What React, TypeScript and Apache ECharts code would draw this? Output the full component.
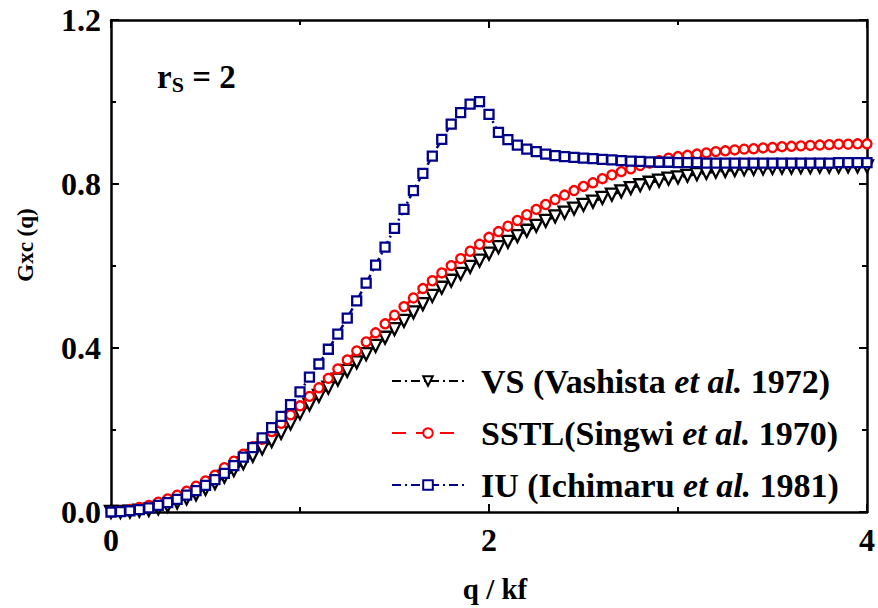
import React, { useEffect, useRef } from "react";
import * as echarts from "echarts";

const Q = [
  0.0, 0.05, 0.1, 0.15, 0.2, 0.25, 0.3, 0.35, 0.4, 0.45,
  0.5, 0.55, 0.6, 0.65, 0.7, 0.75, 0.8, 0.85, 0.9, 0.95,
  1.0, 1.05, 1.1, 1.15, 1.2, 1.25, 1.3, 1.35, 1.4, 1.45,
  1.5, 1.55, 1.6, 1.65, 1.7, 1.75, 1.8, 1.85, 1.9, 1.95,
  2.0, 2.05, 2.1, 2.15, 2.2, 2.25, 2.3, 2.35, 2.4, 2.45,
  2.5, 2.55, 2.6, 2.65, 2.7, 2.75, 2.8, 2.85, 2.9, 2.95,
  3.0, 3.05, 3.1, 3.15, 3.2, 3.25, 3.3, 3.35, 3.4, 3.45,
  3.5, 3.55, 3.6, 3.65, 3.7, 3.75, 3.8, 3.85, 3.9, 3.95,
  4.0,
];

const VS = [
  0.000, 0.000, 0.001, 0.003, 0.005, 0.009, 0.015, 0.023, 0.033, 0.043,
  0.056, 0.070, 0.086, 0.102, 0.119, 0.137, 0.155, 0.173, 0.193, 0.216,
  0.241, 0.262, 0.283, 0.303, 0.323, 0.344, 0.365, 0.385, 0.405, 0.425,
  0.446, 0.466, 0.487, 0.507, 0.527, 0.547, 0.564, 0.581, 0.598, 0.613,
  0.630, 0.646, 0.659, 0.673, 0.686, 0.698, 0.710, 0.721, 0.730, 0.740,
  0.749, 0.757, 0.766, 0.774, 0.782, 0.790, 0.797, 0.803, 0.808, 0.813,
  0.816, 0.820, 0.824, 0.827, 0.830, 0.832, 0.834, 0.836, 0.837, 0.838,
  0.839, 0.840, 0.840, 0.841, 0.841, 0.842, 0.842, 0.842, 0.843, 0.843,
  0.843,
];

const SSTL = [
  0.000, 0.002, 0.006, 0.011, 0.016, 0.024, 0.032, 0.041, 0.051, 0.063,
  0.076, 0.090, 0.108, 0.124, 0.141, 0.159, 0.177, 0.196, 0.216, 0.237,
  0.259, 0.282, 0.303, 0.326, 0.349, 0.371, 0.393, 0.415, 0.437, 0.459,
  0.480, 0.501, 0.522, 0.545, 0.564, 0.583, 0.601, 0.618, 0.636, 0.653,
  0.670, 0.684, 0.697, 0.711, 0.725, 0.738, 0.750, 0.762, 0.773, 0.784,
  0.794, 0.803, 0.813, 0.822, 0.830, 0.837, 0.845, 0.851, 0.857, 0.863,
  0.867, 0.870, 0.873, 0.876, 0.879, 0.881, 0.883, 0.885, 0.886, 0.888,
  0.889, 0.891, 0.892, 0.893, 0.894, 0.895, 0.896, 0.897, 0.897, 0.898,
  0.898,
];

const IU = [
  0.000, 0.001, 0.003, 0.006, 0.010, 0.016, 0.023, 0.031, 0.041, 0.052,
  0.065, 0.079, 0.094, 0.113, 0.134, 0.157, 0.181, 0.206, 0.233, 0.262,
  0.293, 0.329, 0.361, 0.397, 0.434, 0.473, 0.515, 0.558, 0.602, 0.646,
  0.692, 0.738, 0.784, 0.826, 0.868, 0.909, 0.946, 0.974, 0.995, 1.001,
  0.970, 0.926, 0.908, 0.895, 0.885, 0.879, 0.873, 0.869, 0.867, 0.865,
  0.863, 0.862, 0.860, 0.859, 0.857, 0.856, 0.855, 0.854, 0.853, 0.853,
  0.852, 0.852, 0.852, 0.851, 0.851, 0.851, 0.851, 0.851, 0.851, 0.851,
  0.851, 0.851, 0.851, 0.851, 0.851, 0.851, 0.851, 0.852, 0.852, 0.852,
  0.852,
];

const X_TICKS = [0, 2, 4];
const Y_TICKS = [0.0, 0.4, 0.8, 1.2];

const LEGEND_NAMES = ["VS", "SSTL", "IU"];
const LEGEND_LABELS: Record<string, string[]> = {
  VS: ["VS (Vashista ", "et al.", " 1972)"],
  SSTL: ["SSTL(Singwi ", "et al.", " 1970)"],
  IU: ["IU (Ichimaru ", "et al.", " 1981)"],
};

const FONT = '"Liberation Serif", "Times New Roman", serif';
const BLUE = "#00008b";
const RED = "#ff0000";
const BLACK = "#000000";

export default function App() {
  const ref = useRef<HTMLDivElement>(null);

  useEffect(() => {
    if (!ref.current) return;
    const chart = echarts.init(ref.current, null, { renderer: "svg" });

    const pairs = (arr: number[]) => Q.map((q, i) => [q, arr[i]]);

    const axisCommon = {
      axisLine: { show: true, onZero: false, lineStyle: { color: "#000", width: 2.5 } },
      splitLine: { show: false },
      axisTick: { show: true, inside: true, length: 8, lineStyle: { color: "#000", width: 2 } },
      minorTick: { show: true, splitNumber: 2, length: 5, lineStyle: { color: "#000", width: 2 } },
    };

    const option: any = {
      animation: false,
      backgroundColor: "#fff",
      grid: { left: 111, right: 10, top: 20, bottom: 96, containLabel: false },
      xAxis: [
        {
          type: "value",
          min: 0,
          max: 4,
          interval: 2,
          position: "bottom",
          ...axisCommon,
          axisLabel: {
            show: true,
            margin: 12,
            color: "#000",
            fontFamily: FONT,
            fontWeight: "bold",
            fontSize: 32,
            formatter: (v: number) => (X_TICKS.includes(v) ? String(v) : ""),
          },
        },
        {
          type: "value",
          min: 0,
          max: 4,
          interval: 2,
          position: "top",
          ...axisCommon,
          axisLabel: { show: false },
        },
      ],
      yAxis: [
        {
          type: "value",
          min: 0,
          max: 1.2,
          interval: 0.4,
          position: "left",
          ...axisCommon,
          axisLabel: {
            show: true,
            margin: 10,
            color: "#000",
            fontFamily: FONT,
            fontWeight: "bold",
            fontSize: 32,
            formatter: (v: number) => {
              const hit = Y_TICKS.find((t) => Math.abs(t - v) < 1e-6);
              return hit === undefined ? "" : hit.toFixed(1);
            },
          },
        },
        {
          type: "value",
          min: 0,
          max: 1.2,
          interval: 0.4,
          position: "right",
          ...axisCommon,
          axisLabel: { show: false },
        },
      ],
      legend: {
        show: true,
        orient: "vertical",
        left: 386,
        top: 359,
        itemGap: 18,
        itemWidth: 72,
        itemHeight: 12,
        data: LEGEND_NAMES,
        formatter: (name: string) => {
          const p = LEGEND_LABELS[name];
          return `{n|${p[0]}}{i|${p[1]}}{n|${p[2]}}`;
        },
        textStyle: {
          color: "#000",
          fontFamily: FONT,
          fontSize: 34,
          fontWeight: "bold",
          padding: [0, 0, 0, 12],
          rich: {
            n: { fontFamily: FONT, fontSize: 34, fontWeight: "bold", color: "#000" },
            i: { fontFamily: FONT, fontSize: 34, fontWeight: "bold", fontStyle: "italic", color: "#000" },
          },
        },
      },
      graphic: [
        {
          type: "text",
          left: 157,
          top: 60,
          style: {
            text: "{r|r}{s|S}{e| = 2}",
            rich: {
              r: { fontFamily: FONT, fontWeight: "bold", fontSize: 33, fill: "#000" },
              s: { fontFamily: FONT, fontWeight: "bold", fontSize: 22, fill: "#000", padding: [16, 0, 0, 0] },
              e: { fontFamily: FONT, fontWeight: "bold", fontSize: 33, fill: "#000" },
            },
          },
        },
        {
          type: "text",
          x: 25,
          y: 245,
          rotation: Math.PI / 2,
          style: {
            text: "Gxc (q)",
            fontFamily: FONT,
            fontWeight: "bold",
            fontSize: 23,
            fill: "#000",
            align: "center",
            verticalAlign: "middle",
          },
        },
        {
          type: "text",
          x: 495,
          y: 589,
          style: {
            text: "q / kf",
            fontFamily: FONT,
            fontWeight: "bold",
            fontSize: 29,
            fill: "#000",
            align: "center",
            verticalAlign: "middle",
          },
        },
      ],
      series: [
        {
          name: "VS",
          type: "line",
          data: pairs(VS),
          xAxisIndex: 0,
          yAxisIndex: 0,
          symbol: "triangle",
          symbolRotate: 180,
          symbolSize: 12,
          itemStyle: { color: "#fff", borderColor: BLACK, borderWidth: 2.3 },
          lineStyle: { color: BLACK, width: 2.5, type: [9, 4, 2, 4] },
          z: 3,
        },
        {
          name: "SSTL",
          type: "line",
          data: pairs(SSTL),
          xAxisIndex: 0,
          yAxisIndex: 0,
          symbol: "circle",
          symbolSize: 9,
          itemStyle: { color: "#fff", borderColor: RED, borderWidth: 2.3 },
          lineStyle: { color: RED, width: 2.5, type: [14, 10] },
          z: 4,
        },
        {
          name: "IU",
          type: "line",
          data: pairs(IU),
          xAxisIndex: 0,
          yAxisIndex: 0,
          symbol: "rect",
          symbolSize: 9,
          itemStyle: { color: "#fff", borderColor: BLUE, borderWidth: 2.3 },
          lineStyle: { color: BLUE, width: 2.5, type: [9, 4, 2, 4] },
          z: 5,
        },
      ],
    };

    chart.setOption(option);
    return () => chart.dispose();
  }, []);

  return <div ref={ref} style={{ width: 878, height: 608, position: "absolute", left: 0, top: 0 }} />;
}
